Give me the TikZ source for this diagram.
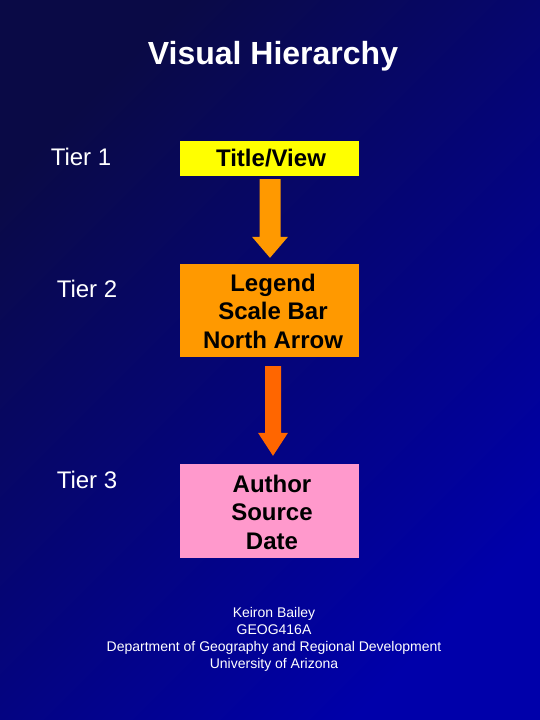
\documentclass[tikz,border=0pt]{standalone}
\usepackage{fontspec}
\setmainfont{Liberation Sans}
\usetikzlibrary{calc}
\definecolor{bgA}{HTML}{0A0A46}
\definecolor{bgB}{HTML}{0000AA}
\definecolor{boxyellow}{HTML}{FFFF00}
\definecolor{boxorange}{HTML}{FF9900}
\definecolor{boxpink}{HTML}{FF99CC}
\definecolor{arrowA}{HTML}{FF9900}
\definecolor{arrowB}{HTML}{FF6600}
% #1 top coordinate, #2 tip coordinate, #3 half shaft, #4 half head, #5 head length, #6 colour
\newcommand\blkarrow[6]{%
  \fill[#6] ($(#1)+(-#3,0)$) -- ($(#1)+(#3,0)$) -- ($(#2)+(#3,-#5)$) -- ($(#2)+(#4,-#5)$)
    -- (#2) -- ($(#2)+(-#4,-#5)$) -- ($(#2)+(-#3,-#5)$) -- cycle;}
\begin{document}
\begin{tikzpicture}[x=1pt,y=-1pt,
  box/.style={minimum width=179pt, inner sep=0pt},
  boxtext/.style={inner sep=0pt, align=center,
    font=\fontsize{24}{28.5}\selectfont\bfseries, text=black},
  tier/.style={text=white, font=\fontsize{24}{28}\selectfont, inner sep=0pt},
  titletext/.style={text=white, font=\fontsize{32}{38}\selectfont\bfseries, inner sep=0pt},
  foottext/.style={text=white, align=center, font=\fontsize{14}{17}\selectfont, inner sep=0pt}]
\useasboundingbox (0,0) rectangle (540,720);
\shade[shading=axis, top color=bgA, bottom color=bgB, shading angle=45] (0,0) rectangle (540,720);

\node[titletext] (title) at (273,56) {Visual Hierarchy};

\node[box, fill=boxyellow, minimum height=35pt] (t1) at (269.5,158.5) {};
\node[boxtext] (t1txt) at ($(t1.center)+(1.5,0)$) {Title/View};
\node[box, fill=boxorange, minimum height=93pt] (t2) at (269.5,310.5) {};
\node[boxtext] (t2txt) at ($(t2.center)+(3.5,0.5)$) {Legend\\Scale Bar\\North Arrow};
\node[box, fill=boxpink, minimum height=94pt] (t3) at (269.5,511) {};
\node[boxtext] (t3txt) at ($(t3.center)+(2.5,1)$) {Author\\Source\\Date};

\node[tier] (l1) at (81,157) {Tier 1};
\node[tier] (l2) at (87,289) {Tier 2};
\node[tier] (l3) at (87,480) {Tier 3};

\coordinate (a1top) at ($(t1.south)+(0.5,3)$);
\coordinate (a1tip) at ($(t2.north)+(0.5,-6)$);
\blkarrow{a1top}{a1tip}{10.5}{18}{21}{arrowA}
\coordinate (a2top) at ($(t2.south)+(3.5,9)$);
\coordinate (a2tip) at ($(t3.north)+(3.5,-8)$);
\blkarrow{a2top}{a2tip}{8}{15}{23}{arrowB}

\node[foottext] (foot) at (274,639.5) {Keiron Bailey\\GEOG416A\\Department of Geography and Regional Development\\University of Arizona};
\end{tikzpicture}
\end{document}
